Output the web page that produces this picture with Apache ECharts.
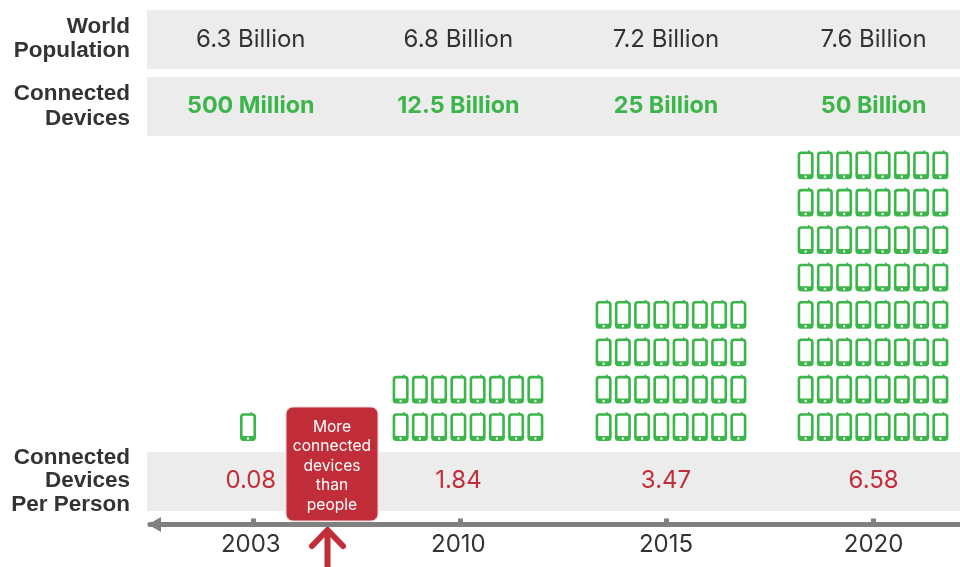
<!DOCTYPE html>
<html>
<head>
<meta charset="utf-8">
<style>html,body{margin:0;padding:0;background:#fff;overflow:hidden;width:960px;height:567px}#chart{width:980px;height:567px}</style>
<script src="https://cdn.jsdelivr.net/npm/echarts@6/dist/echarts.min.js"></script>
</head>
<body>
<div id="chart"></div>
<script>
// Connected devices versus world population over time
const years = ['2003', '2010', '2015', '2020'];
const worldPopulation = ['6.3 Billion', '6.8 Billion', '7.2 Billion', '7.6 Billion'];
const connectedDevices = ['500 Million', '12.5 Billion', '25 Billion', '50 Billion'];
const devicesPerPerson = ['0.08', '1.84', '3.47', '6.58'];
const iconCounts = [1, 16, 32, 64];
const iconsPerRow = 8;

const GREEN = '#3cb54a';
const RED = '#c12e39';
const INK = '#333333';
const BAND = '#ececec';
const FONT = 'Inter, "Liberation Sans", sans-serif';
const HEAD_FONT = '"Liberation Sans", sans-serif';

const BAND_WIDTH = 207;
const COL_STEP = 19.25 / BAND_WIDTH;
const clusterNudge = [-4, 9, 5, 0].map(v => v / BAND_WIDTH);

const PHONE = 'path://M3.5 1.5L10.4 1.5L10.4 .5Q11.2 0 12 .5L12 1.5L12.5 1.5Q16 1.5 16 5L16 25.5Q16 29 12.5 29L3.5 29Q0 29 0 25.5L0 5Q0 1.5 3.5 1.5Z' +
  'M4 4Q2.6 4 2.6 5.4L2.6 23.2Q2.6 24 3.4 24L12.6 24Q13.4 24 13.4 23.2L13.4 5.4Q13.4 4 12 4Z' +
  'M9.2 26.5A1.2 1.2 0 1 0 6.8 26.5A1.2 1.2 0 1 0 9.2 26.5Z';

// One point per phone, stacked upward in rows of eight
const iconPoints = [];
iconCounts.forEach((count, i) => {
  for (let k = 0; k < count; k++) {
    const row = Math.floor(k / iconsPerRow);
    const inRow = Math.min(count - row * iconsPerRow, iconsPerRow);
    const col = k % iconsPerRow;
    iconPoints.push([i + clusterNudge[i] + (col - (inRow - 1) / 2) * COL_STEP, row + 0.5]);
  }
});

// Label-only category axis used for each band of figures
const textAxis = (data, position, offset, label) => ({
  type: 'category', data, position, offset, gridIndex: 1,
  axisLine: { show: false, onZero: false }, axisTick: { show: false },
  axisLabel: Object.assign({ margin: 0, verticalAlign: 'middle', fontFamily: FONT, interval: 0 }, label)
});

const band = (y) => ({
  type: 'rect', z: -1, shape: { x: 147, y, width: 813, height: 59 }, style: { fill: BAND }
});
const rowTitle = (lines, y, lineHeight) => ({
  type: 'text', x: 130, y,
  style: { text: lines.join('\n'), align: 'right', verticalAlign: 'middle', fill: INK, font: 'bold 22.5px ' + HEAD_FONT, lineHeight }
});

const chart = echarts.init(document.getElementById('chart'), null, { renderer: 'canvas' });
chart.setOption({
  animation: false,
  backgroundColor: '#ffffff',
  grid: [
    { left: 148.5, top: 146, width: 828, height: 299.2 },
    { left: 147, top: 146, width: 830.4, height: 299.2 },
    { left: 149.9, top: 146, width: 826.4, height: 299.2 }
  ],
  xAxis: [
    { type: 'value', min: -0.5, max: 3.5, show: false, gridIndex: 0 },
    {
      type: 'category', data: years, position: 'bottom', offset: 79.3, gridIndex: 2,
      axisLine: { show: true, onZero: false, symbol: ['triangle', 'none'], symbolSize: [15, 13], symbolOffset: [4.6, 0], lineStyle: { color: '#808080', width: 5 } },
      axisTick: { show: true, alignWithLabel: true, inside: true, length: 6, lineStyle: { color: '#808080', width: 5 } },
      axisLabel: { show: false }
    },
    textAxis(years, 'bottom', 99.5, { color: INK, fontSize: 24 }),
    textAxis(worldPopulation, 'top', 106.3, { color: INK, fontSize: 24 }),
    textAxis(connectedDevices, 'top', 39.7, { color: GREEN, fontSize: 23.3, fontWeight: 'bold' }),
    textAxis(devicesPerPerson, 'bottom', 35.5, { color: RED, fontSize: 24 })
  ],
  yAxis: [
    { type: 'value', min: 0, max: 8, show: false, gridIndex: 0 },
    { type: 'value', min: 0, max: 8, show: false, gridIndex: 1 },
    { type: 'value', min: 0, max: 8, show: false, gridIndex: 2 }
  ],
  series: [{
    type: 'scatter', xAxisIndex: 0, yAxisIndex: 0, data: iconPoints,
    symbol: PHONE, symbolSize: [16, 29], itemStyle: { color: GREEN, opacity: 1 }, silent: true
  }],
  graphic: [
    band(10), band(77), band(452),
    rowTitle(['World', 'Population'], 39, 24.5),
    rowTitle(['Connected', 'Devices'], 106.5, 25),
    rowTitle(['Connected', 'Devices', 'Per Person'], 481, 23.7),
    {
      type: 'rect', z: 10, shape: { x: 286, y: 407, width: 92, height: 114, r: 7 },
      style: { fill: RED, stroke: '#f0d5d7', lineWidth: 1 }
    },
    {
      type: 'text', z: 11, x: 332, y: 466,
      style: {
        text: 'More\nconnected\ndevices\nthan\npeople', align: 'center', verticalAlign: 'middle',
        fill: '#ffffff', font: '15.6px ' + FONT, lineHeight: 19.5
      }
    },
    {
      type: 'group', z: 11, children: [
        { type: 'line', shape: { x1: 327.5, y1: 531, x2: 327.5, y2: 567 }, style: { stroke: RED, lineWidth: 6 } },
        { type: 'polyline', shape: { points: [[312, 546], [327.5, 530], [343, 546]] }, style: { stroke: RED, lineWidth: 6, lineCap: 'round', lineJoin: 'miter', fill: null } }
      ]
    }
  ]
});
</script>
</body>
</html>
